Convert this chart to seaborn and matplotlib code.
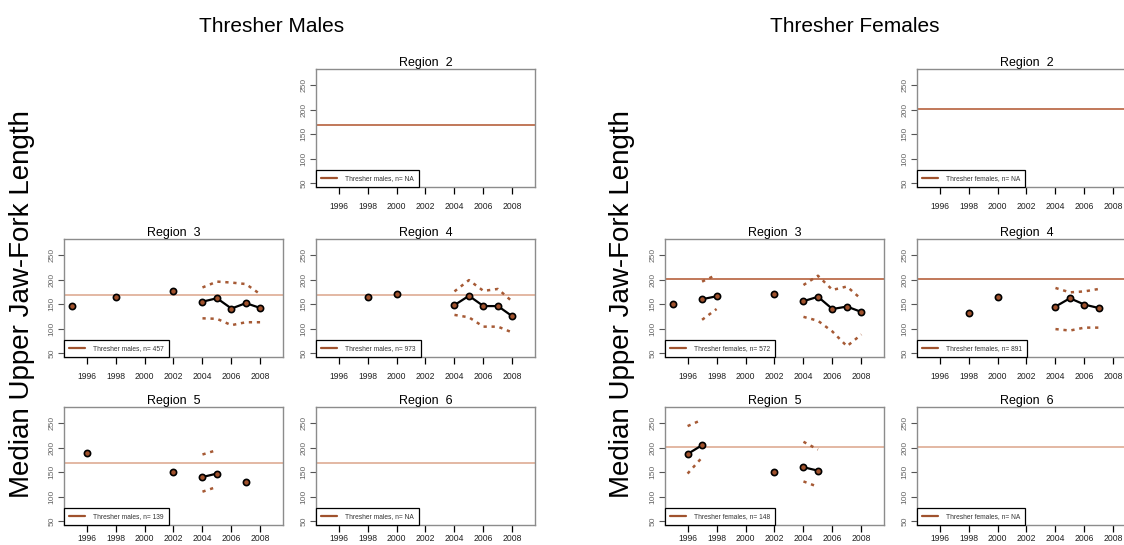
import numpy as np
import pandas as pd
import matplotlib
matplotlib.use("Agg")
import matplotlib.pyplot as plt
import seaborn as sns

nan = np.nan

# reference medians (horizontal lines)
MALE_REF = 168
FEMALE_REF = 201

# males, region 3
M3_YEARS = [1995, 1998, 2002, 2004, 2005, 2006, 2007, 2008]
M3_MED = [146, 165, 177, 155, 162, 141, 152, 142]
M3_UP = [nan, nan, nan, 184, 196, 194, 191, 170]
M3_LO = [nan, nan, nan, 121, 120, 107, 113, 113]

# males, region 4
M4_YEARS = [1998, 2000, 2004, 2005, 2006, 2007, 2008]
M4_MED = [165, 171, 148, 167, 146, 146, 125]
M4_UP = [nan, nan, 176, 199, 177, 181, 155]
M4_LO = [nan, nan, 128, 123, 104, 104, 92]

# males, region 5
M5_YEARS = [1996, 2002, 2004, 2005, 2007]
M5_MED = [190, 151, 140, 147, 130]
M5_UP = [nan, nan, 186, 195, nan]
M5_LO = [nan, nan, 110, 120, nan]

# females, region 3
F3_YEARS = [1995, 1997, 1998, 2002, 2004, 2005, 2006, 2007, 2008]
F3_MED = [150, 160, 166, 171, 156, 165, 140, 145, 134]
F3_UP = [nan, 196, 210, nan, 189, 208, 179, 186, 160]
F3_LO = [nan, 118, 140, nan, 124, 116, 94, 64, 88]

# females, region 4
F4_YEARS = [1998, 2000, 2004, 2005, 2006, 2007]
F4_MED = [132, 165, 145, 162, 149, 142]
F4_UP = [nan, nan, 183, 174, 176, 181]
F4_LO = [nan, nan, 99, 96, 102, 102]

# females, region 5
F5_YEARS = [1996, 1997, 2002, 2004, 2005]
F5_MED = [187, 205, 150, 160, 153]
F5_UP = [244, 257, nan, 212, 196]
F5_LO = [147, 180, nan, 131, 120]

M_N = {2: "NA", 3: "457", 4: "973", 5: "139", 6: "NA"}
F_N = {2: "NA", 3: "572", 4: "891", 5: "148", 6: "NA"}

YEAR_TICKS = list(range(1996, 2009, 2))
Y_TICKS = [50, 100, 150, 200, 250]

PT_COLOR = "#a0522d"
CI_COLOR = "#a65a35"
REF_DARK = "#b0532c"
REF_LIGHT = "#dba48a"


def segments(years):
    s = pd.Series(years)
    return (s.diff() != 1).cumsum().values


def draw_panel(ax, region, ref, label, ref_color, years=None, med=None, up=None,
               lo=None, xpad=6):
    ref_line = ax.axhline(ref, color=ref_color, lw=1.1, label=label)
    if years:
        df = pd.DataFrame({"year": years, "med": med, "up": up, "lo": lo})
        df["seg"] = segments(years)
        for col in ["up", "lo"]:
            d = df.dropna(subset=[col]).copy()
            d["seg"] = segments(d["year"].tolist())
            sns.lineplot(data=d, x="year", y=col, units="seg", estimator=None,
                         color=CI_COLOR, lw=1.8, linestyle=(0, (1.3, 1.9)),
                         ax=ax, legend=False)
        sns.lineplot(data=df, x="year", y="med", units="seg", estimator=None,
                     color="black", lw=1.6, ax=ax, legend=False)
        sns.scatterplot(data=df, x="year", y="med", color=PT_COLOR,
                        edgecolor="black", s=20, linewidth=1.2, ax=ax,
                        zorder=5, legend=False)
    ax.set_xlim(1994.44, 2009.56)
    ax.set_ylim(42, 283)
    ax.set_xticks(YEAR_TICKS)
    ax.set_yticks(Y_TICKS)
    ax.set_xlabel("")
    ax.set_ylabel("")
    ax.set_title(f"Region  {region}", fontsize=9, pad=2, color="black")
    ax.tick_params(axis="x", bottom=True, labelsize=6.2, length=5, width=0.9,
                   color="black", labelcolor="#222222", pad=xpad, direction="out")
    ax.tick_params(axis="y", left=True, labelsize=6, length=4, width=0.8,
                   color="#555555", labelcolor="#666666", pad=2, direction="out")
    for lab in ax.get_yticklabels():
        lab.set_rotation(90)
        lab.set_va("center")
    for sp in ax.spines.values():
        sp.set_color("#8c8c8c")
        sp.set_linewidth(1.0)
    leg = ax.legend(handles=[ref_line], loc="lower left", borderaxespad=0,
                    fontsize=4.8, fancybox=False, framealpha=1,
                    edgecolor="black", handlelength=2.4, handletextpad=1.2,
                    borderpad=0.75)
    leg.get_frame().set_linewidth(0.9)
    for t in leg.get_texts():
        t.set_color("#333333")
    leg.get_lines()[0].set_color("#a0522d")
    leg.get_lines()[0].set_linewidth(1.6)


sns.set_style("white")
plt.rcParams["font.family"] = ["Liberation Sans", "DejaVu Sans"]
plt.rcParams["text.color"] = "black"

fig = plt.figure(figsize=(11.24, 5.45), dpi=100)

W, H = 1124, 545
col_left = {"m1": 64, "m2": 316, "f1": 665, "f2": 917}
row_bottom = {1: 187, 2: 357, 3: 525}
pw, ph = 219, 118


def make_ax(col, row):
    return fig.add_axes([col_left[col] / W, 1 - row_bottom[row] / H, pw / W, ph / H])


# males
draw_panel(make_ax("m2", 1), 2, MALE_REF, f"Thresher males, n= {M_N[2]}", REF_DARK)
draw_panel(make_ax("m1", 2), 3, MALE_REF, f"Thresher males, n= {M_N[3]}", REF_LIGHT,
           M3_YEARS, M3_MED, M3_UP, M3_LO)
draw_panel(make_ax("m2", 2), 4, MALE_REF, f"Thresher males, n= {M_N[4]}", REF_LIGHT,
           M4_YEARS, M4_MED, M4_UP, M4_LO)
draw_panel(make_ax("m1", 3), 5, MALE_REF, f"Thresher males, n= {M_N[5]}", REF_LIGHT,
           M5_YEARS, M5_MED, M5_UP, M5_LO, xpad=1.5)
draw_panel(make_ax("m2", 3), 6, MALE_REF, f"Thresher males, n= {M_N[6]}", REF_LIGHT,
           xpad=1.5)

# females
draw_panel(make_ax("f2", 1), 2, FEMALE_REF, f"Thresher females, n= {F_N[2]}", REF_DARK)
draw_panel(make_ax("f1", 2), 3, FEMALE_REF, f"Thresher females, n= {F_N[3]}", REF_DARK,
           F3_YEARS, F3_MED, F3_UP, F3_LO)
draw_panel(make_ax("f2", 2), 4, FEMALE_REF, f"Thresher females, n= {F_N[4]}", REF_DARK,
           F4_YEARS, F4_MED, F4_UP, F4_LO)
draw_panel(make_ax("f1", 3), 5, FEMALE_REF, f"Thresher females, n= {F_N[5]}", REF_LIGHT,
           F5_YEARS, F5_MED, F5_UP, F5_LO, xpad=1.5)
draw_panel(make_ax("f2", 3), 6, FEMALE_REF, f"Thresher females, n= {F_N[6]}", REF_LIGHT,
           xpad=1.5)

fig.text(272 / W, 1 - 27 / H, "Thresher Males", ha="center", va="center",
         fontsize=15, color="black")
fig.text(855 / W, 1 - 27 / H, "Thresher Females", ha="center", va="center",
         fontsize=15, color="black")
fig.text(22 / W, 1 - 304 / H, "Median Upper Jaw-Fork Length", rotation=90,
         ha="center", va="center", fontsize=20, color="black")
fig.text(622 / W, 1 - 304 / H, "Median Upper Jaw-Fork Length", rotation=90,
         ha="center", va="center", fontsize=20, color="black")

fig.savefig("out.png", dpi=100)
